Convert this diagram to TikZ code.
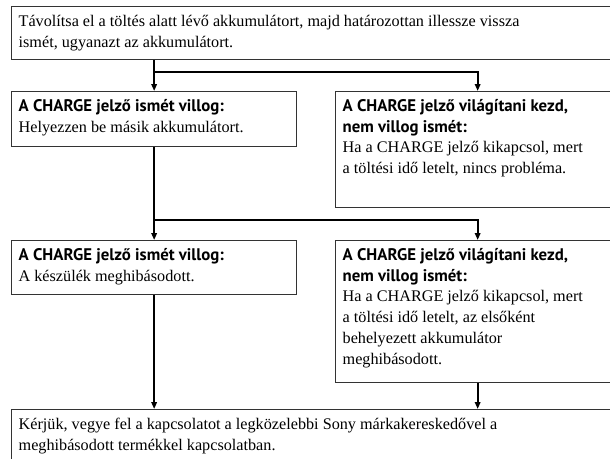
\documentclass[tikz,border=0pt]{standalone}
\usepackage{fontspec}
\setmainfont{Liberation Serif}
\newfontfamily\headfont{PT Sans}
\usetikzlibrary{arrows.meta, positioning}

% text inside a box: width, height, content
\newcommand{\cell}[3]{\parbox[c][#2][t]{#1}{\raggedright\fontsize{16.2}{20.8}\selectfont\strut #3}}
\newcommand{\head}[1]{{\headfont\bfseries\fontsize{16.8}{20.8}\selectfont #1}}

\tikzset{
  stepbox/.style={draw=black!80, line width=1.3pt, anchor=north west, inner xsep=7pt, inner ysep=5pt},
  link/.style={line width=2.3pt},
  linkarrow/.style={link, -{Triangle[length=7pt, width=5.5pt]}},
}

\begin{document}
\begin{tikzpicture}[x=1pt, y=-1pt]
    \useasboundingbox (0,0) rectangle (610,458);
    \clip (0,0) rectangle (610,458);
    \node[stepbox] (top) at (11,6) {\cell{594pt}{43pt}{Távolítsa el a töltés alatt lévő akkumulátort, majd határozottan illessze vissza\\ ismét, ugyanazt az akkumulátort.}};
    \node[stepbox] (blink1) at (11,91) {\cell{271pt}{45pt}{\head{A CHARGE jelző ismét villog:}\\ Helyezzen be másik akkumulátort.}};
    \node[stepbox] (lit1) at (335,91) {\cell{270pt}{106pt}{\head{A CHARGE jelző világítani kezd,}\\ \head{nem villog ismét:}\\ Ha a CHARGE jelző kikapcsol, mert\\ a töltési idő letelt, nincs probléma.}};
    \node[stepbox] (blink2) at (11,240) {\cell{271pt}{44pt}{\head{A CHARGE jelző ismét villog:}\\ A készülék meghibásodott.}};
    \node[stepbox] (lit2) at (335,240) {\cell{270pt}{132pt}{\head{A CHARGE jelző világítani kezd,}\\ \head{nem villog ismét:}\\ Ha a CHARGE jelző kikapcsol, mert\\ a töltési idő letelt, az elsőként\\ behelyezett akkumulátor\\ meghibásodott.}};
    \node[stepbox] (contact) at (11,409) {\cell{594pt}{50pt}{Kérjük, vegye fel a kapcsolatot a legközelebbi Sony márkakereskedővel a\\ meghibásodott termékkel kapcsolatban.}};

    % forks
    \path (top.south -| blink1) ++(0,12) coordinate (fork1);
    \path (blink1.south) ++(0,73) coordinate (fork2);
    \draw[linkarrow] (top.south -| blink1) -- (blink1.north);
    \draw[linkarrow] (fork1) -| (lit1.north);
    \draw[linkarrow] (blink1.south) -- (blink2.north);
    \draw[linkarrow] (fork2) -| (lit2.north);
    \draw[linkarrow] (blink2.south) -- (blink2.south |- contact.north);
    \draw[linkarrow] (lit2.south) -- (lit2.south |- contact.north);
\end{tikzpicture}
\end{document}
